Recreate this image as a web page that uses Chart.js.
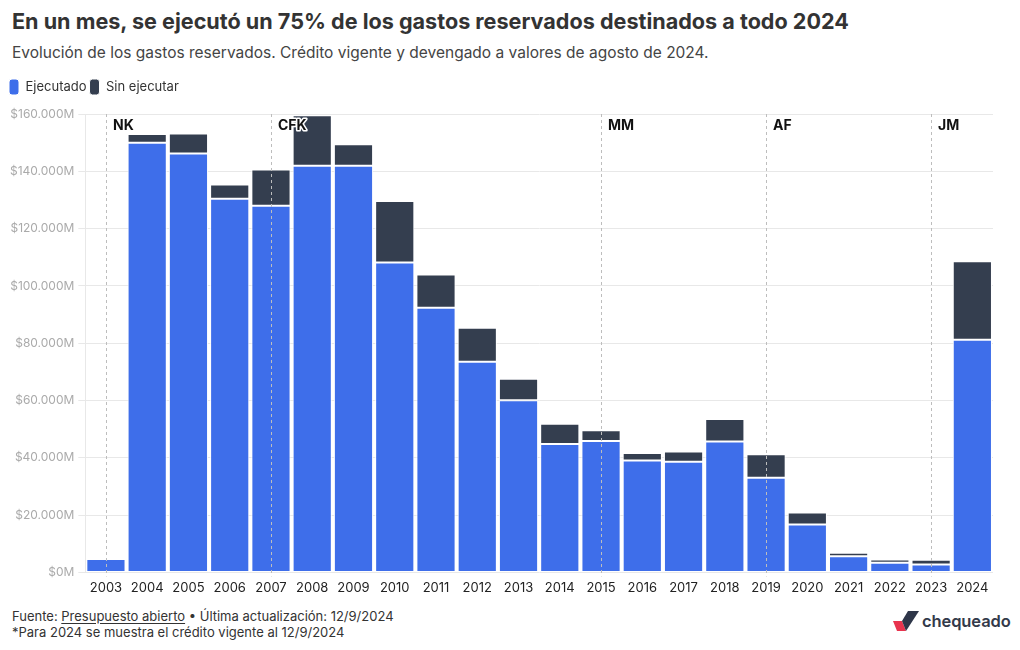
<!DOCTYPE html>
<html lang="es">
<head>
<meta charset="utf-8">
<script src="https://cdn.jsdelivr.net/npm/chart.js@4.4.1/dist/chart.umd.min.js"></script>
<style>
  html, body { margin: 0; padding: 0; background: #fff; }
  body { width: 1020px; height: 650px; position: relative; overflow: hidden;
         font-family: Inter, "Noto Sans", sans-serif; color: #333; }
  #title { position: absolute; left: 12px; top: 8px; font-size: 21.6px; font-weight: 700;
           color: #333; white-space: nowrap; }
  #subtitle { position: absolute; left: 12px; top: 43px; font-size: 15.5px; color: #444;
              white-space: nowrap; }
  #wrap { position: absolute; left: 0; top: 76px; width: 1020px; height: 520px; }
  #footer { position: absolute; left: 12px; top: 608px; font-size: 13px; line-height: 16px;
            color: #333; }
  #footer u { text-underline-offset: 2px; }
  #logo { position: absolute; left: 893px; top: 611px; display: flex; align-items: center; }
  #logo span { font-size: 16.5px; font-weight: 600; color: #333a4a; margin-left: 3px;
               letter-spacing: -0.1px; }
</style>
</head>
<body>
<div id="title">En un mes, se ejecutó un 75% de los gastos reservados destinados a todo 2024</div>
<div id="subtitle">Evolución de los gastos reservados. Crédito vigente y devengado a valores de agosto de 2024.</div>
<div id="wrap"><canvas id="chart"></canvas></div>
<div id="footer">Fuente: <u>Presupuesto abierto</u> • Última actualización: 12/9/2024<br>*Para 2024 se muestra el crédito vigente al 12/9/2024</div>
<div id="logo">
  <svg width="26" height="20" viewBox="0 0 26 20">
    <polygon points="0,10 9,10 13,20 4,20" fill="#e8344e"/>
    <polygon points="9,10 15,0 26,0 13,20" fill="#2e3649"/>
  </svg>
  <span>chequeado</span>
</div>

<script>
// ------------------------------------------------------------
//  Gastos reservados — millones de pesos (valores ago. 2024)
// ------------------------------------------------------------

const YEARS = ['2003','2004','2005','2006','2007','2008','2009','2010','2011','2012','2013',
               '2014','2015','2016','2017','2018','2019','2020','2021','2022','2023','2024'];

const EJECUTADO = [4700, 150000, 146200, 130400, 128000, 141900, 141900, 108200, 92400, 73500, 60100,
                   44800, 45900, 39100, 38600, 45700, 33000, 16700, 5600, 3400, 2800, 81200];

const SIN_EJECUTAR = [0, 3000, 7000, 5000, 12600, 17700, 7500, 21400, 11600, 11900, 7500,
                      7100, 3700, 2600, 3600, 7800, 8200, 4200, 1300, 1100, 1600, 27400];

// Presidencias (año de inicio)
const GOBIERNOS = [
  { year: '2003', label: 'NK' },
  { year: '2007', label: 'CFK' },
  { year: '2015', label: 'MM' },
  { year: '2019', label: 'AF' },
  { year: '2023', label: 'JM' },
];

const COLORS = {
  ejecutado: '#3e6eea',
  sinEjecutar: '#343e4f',
};

const FONT = "Inter, 'Noto Sans', sans-serif";

function fmtMillones(v) {
  return '$' + String(v).replace(/\B(?=(\d{3})+(?!\d))/g, '.') + 'M';
}

// espacio extra debajo de la leyenda
const legendGap = {
  id: 'legendGap',
  beforeInit(chart) {
    const fit = chart.legend.fit;
    chart.legend.fit = function () {
      fit.call(this);
      this.height += 9;
    };
  },
};

// líneas punteadas + etiquetas de gobierno
const gobiernosPlugin = {
  id: 'gobiernos',
  afterDatasetsDraw(chart) {
    const { ctx, chartArea, scales } = chart;
    ctx.save();
    GOBIERNOS.forEach(g => {
      const x = Math.round(scales.x.getPixelForValue(YEARS.indexOf(g.year))) + 0.5;
      ctx.beginPath();
      ctx.setLineDash([3, 3]);
      ctx.strokeStyle = '#bdbdbd';
      ctx.lineWidth = 1;
      ctx.moveTo(x, chartArea.top);
      ctx.lineTo(x, chartArea.bottom + 4);
      ctx.stroke();

      ctx.setLineDash([]);
      ctx.font = 'bold 14px ' + FONT;
      ctx.textBaseline = 'middle';
      ctx.lineJoin = 'round';
      ctx.lineWidth = 3;
      ctx.strokeStyle = '#fff';
      ctx.strokeText(g.label, x + 6.5, chartArea.top + 12);
      ctx.fillStyle = '#111';
      ctx.fillText(g.label, x + 6.5, chartArea.top + 12);
    });
    ctx.restore();
  },
};

const ctx = document.getElementById('chart').getContext('2d');

new Chart(ctx, {
  type: 'bar',
  data: {
    labels: YEARS,
    datasets: [
      {
        label: 'Ejecutado',
        data: EJECUTADO,
        backgroundColor: COLORS.ejecutado,
        borderColor: '#fff',
        borderWidth: 1,
        borderSkipped: false,
      },
      {
        label: 'Sin ejecutar',
        data: SIN_EJECUTAR,
        backgroundColor: COLORS.sinEjecutar,
        borderColor: '#fff',
        borderWidth: 1,
        borderSkipped: false,
      },
    ],
  },
  options: {
    responsive: true,
    maintainAspectRatio: false,
    animation: false,
    datasets: { bar: { barPercentage: 0.95, categoryPercentage: 1 } },
    layout: { padding: { left: 6, right: 27, top: 0, bottom: 0 } },
    plugins: {
      legend: {
        position: 'top',
        align: 'start',
        labels: {
          boxWidth: 10,
          boxHeight: 16,
          useBorderRadius: true,
          borderRadius: 3,
          padding: 3,
          color: '#333',
          font: { size: 13, family: FONT },
        },
      },
      tooltip: { enabled: false },
    },
    scales: {
      x: {
        stacked: true,
        grid: { display: false },
        border: { display: false },
        ticks: {
          color: '#222',
          maxRotation: 0,
          autoSkip: false,
          padding: 0,
          font: { size: 13, family: FONT },
        },
      },
      y: {
        stacked: true,
        min: 0,
        max: 160000,
        grid: { color: '#e8e8e8', tickLength: 7 },
        border: { color: '#e8e8e8' },
        ticks: {
          stepSize: 20000,
          color: '#aaa',
          padding: 4,
          callback: v => fmtMillones(v),
          font: { size: 12, family: FONT },
        },
      },
    },
  },
  plugins: [legendGap, gobiernosPlugin],
});
</script>
</body>
</html>
